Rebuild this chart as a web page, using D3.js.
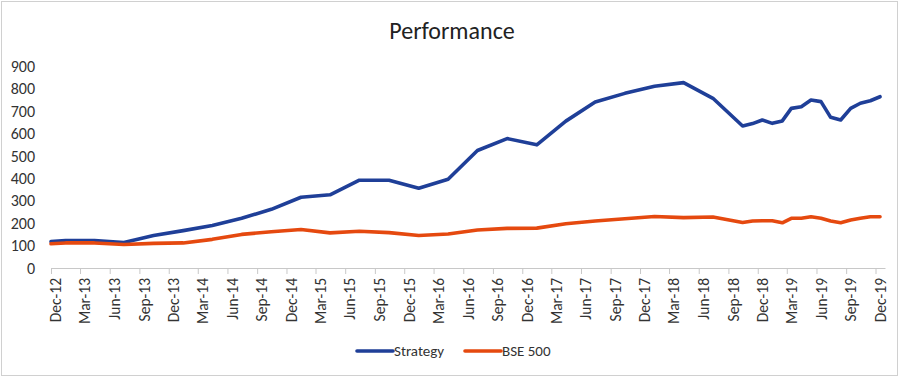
<!DOCTYPE html>
<html>
<head>
<meta charset="utf-8">
<script src="https://cdn.jsdelivr.net/npm/d3@7/dist/d3.min.js"></script>
<style>
  html, body { margin: 0; padding: 0; background: #fff; }
  svg { display: block; }
  text { font-family: Carlito, Lato, "Open Sans", sans-serif; }
</style>
</head>
<body>
<svg id="chart" width="904" height="379"></svg>
<script>
const title = "Performance";
const seriesNames = ["Strategy", "BSE 500"];
const seriesColors = ["#1f3f98", "#e5490f"];

const dates = ["2012-12-01","2013-01-15","2013-04-15","2013-07-15","2013-10-15","2014-01-15","2014-04-15","2014-07-15","2014-10-15","2015-01-15","2015-04-15","2015-07-15","2015-10-15","2016-01-15","2016-04-15","2016-07-15","2016-10-15","2017-01-15","2017-04-15","2017-07-15","2017-10-15","2018-01-15","2018-04-15","2018-07-15","2018-10-15","2018-11-15","2018-12-15","2019-01-15","2019-02-15","2019-03-15","2019-04-15","2019-05-15","2019-06-15","2019-07-15","2019-08-15","2019-09-15","2019-10-15","2019-11-15","2019-12-15"];

const strategy = [118,123,123,114,145,167,190,222,262,316,327,392,392,356,396,525,578,550,656,741,780,812,828,758,634,645,661,646,657,713,720,750,743,673,661,713,736,747,765];

const bse500 = [108,112,112,105,110,112,128,150,162,172,157,164,158,145,152,170,177,178,198,210,220,230,225,228,203,210,211,211,202,222,222,229,222,210,202,214,222,229,229];

const xTickLabels = ["Dec-12","Mar-13","Jun-13","Sep-13","Dec-13","Mar-14","Jun-14","Sep-14","Dec-14","Mar-15","Jun-15","Sep-15","Dec-15","Mar-16","Jun-16","Sep-16","Dec-16","Mar-17","Jun-17","Sep-17","Dec-17","Mar-18","Jun-18","Sep-18","Dec-18","Mar-19","Jun-19","Sep-19","Dec-19"];
const yTicks = [0,100,200,300,400,500,600,700,800,900];

const svg = d3.select("#chart");

// border
svg.append("rect").attr("x", 1.5).attr("y", 1.5).attr("width", 896).attr("height", 374)
  .attr("fill", "#fff").attr("stroke", "#d0d0d0").attr("stroke-width", 1);

const parseDate = d3.timeParse("%Y-%m-%d");
const parseTick = d3.timeParse("%b-%y");
const xDates = dates.map(parseDate);
const tickDates = xTickLabels.map(parseTick);

const x = d3.scaleTime()
  .domain([new Date(2012, 11, 1), new Date(2020, 0, 1)])
  .range([51, 885.5]);
const y = d3.scaleLinear().domain([0, 900]).range([268, 66.5]);

// title
svg.append("text").attr("x", 452).attr("y", 39).attr("text-anchor", "middle")
  .attr("font-size", 24).attr("fill", "#222").text(title);

// y labels
svg.append("g").selectAll("text").data(yTicks).join("text")
  .attr("x", 35).attr("y", d => y(d)).attr("dy", "0.35em")
  .attr("text-anchor", "end").attr("font-size", 16).attr("fill", "#333")
  .text(d => d);

// x axis
const xAxis = d3.axisBottom(x).tickValues(tickDates).tickSize(6).tickFormat("");
const gx = svg.append("g").attr("transform", "translate(0,268)").call(xAxis);
gx.select(".domain").attr("stroke", "#c8c8c8").attr("d", "M51,0.5H885.5");
gx.selectAll(".tick line").attr("stroke", "#c8c8c8");

// x labels (centred in the month)
svg.append("g").selectAll("text").data(tickDates).join("text")
  .attr("transform", d => {
    const mid = (x(d) + x(d3.timeMonth.offset(d, 1))) / 2;
    return `translate(${mid},278) rotate(-90)`;
  })
  .attr("text-anchor", "end").attr("dy", "0.35em")
  .attr("font-size", 15.5).attr("fill", "#333")
  .text((d, i) => xTickLabels[i]);

// lines
const line = d3.line().x((d, i) => x(xDates[i])).y(d => y(d));
[strategy, bse500].forEach((s, k) => {
  svg.append("path").datum(s).attr("d", line)
    .attr("fill", "none").attr("stroke", seriesColors[k])
    .attr("stroke-width", 3.6).attr("stroke-linejoin", "round").attr("stroke-linecap", "round");
});

// legend
const legendItems = [{x: 357, name: seriesNames[0], c: seriesColors[0]}, {x: 465, name: seriesNames[1], c: seriesColors[1]}];
const lg = svg.append("g");
legendItems.forEach(it => {
  lg.append("line").attr("x1", it.x).attr("x2", it.x + 36).attr("y1", 351).attr("y2", 351)
    .attr("stroke", it.c).attr("stroke-width", 3.6).attr("stroke-linecap", "round");
  lg.append("text").attr("x", it.x + 37).attr("y", 351).attr("dy", "0.35em")
    .attr("font-size", 15).attr("fill", "#333").text(it.name);
});
</script>
</body>
</html>
